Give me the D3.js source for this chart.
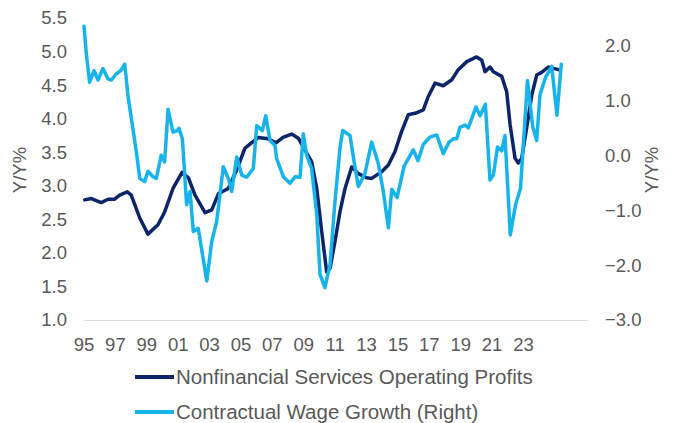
<!DOCTYPE html>
<html>
<head>
<meta charset="utf-8">
<script src="https://cdn.jsdelivr.net/npm/d3@7/dist/d3.min.js"></script>
<style>
  body { margin: 0; background: #fff; }
  text { font-family: "Liberation Sans", Arial, sans-serif; fill: #595959; }
</style>
</head>
<body>
<svg id="chart" width="674" height="423"></svg>
<script>
// profits, left axis (Y/Y%) : [year, value]
var profits = [
  [1995.04, 2.79], [1995.43, 2.81], [1996.01, 2.75], [1996.41, 2.80], [1996.80, 2.80],
  [1997.09, 2.86], [1997.54, 2.91], [1997.77, 2.86], [1998.27, 2.52], [1998.75, 2.28],
  [1999.34, 2.42], [1999.73, 2.61], [2000.22, 2.96], [2000.75, 3.20], [2001.12, 3.12],
  [2001.51, 2.86], [2002.10, 2.60], [2002.49, 2.64], [2002.88, 2.88], [2003.46, 2.96],
  [2003.96, 3.24], [2004.44, 3.56], [2005.22, 3.72], [2005.79, 3.70], [2006.26, 3.64],
  [2006.67, 3.72], [2007.18, 3.77], [2007.57, 3.71], [2007.96, 3.53], [2008.35, 3.36],
  [2008.65, 2.96], [2008.94, 2.32], [2009.23, 1.72], [2009.43, 1.77], [2009.72, 2.17],
  [2010.01, 2.61], [2010.31, 2.96], [2010.70, 3.28], [2011.09, 3.18], [2011.58, 3.12],
  [2011.87, 3.11], [2012.46, 3.21], [2012.85, 3.31], [2013.24, 3.51], [2013.63, 3.81],
  [2014.02, 4.06], [2014.41, 4.08], [2014.90, 4.13], [2015.19, 4.33], [2015.59, 4.53],
  [2016.07, 4.49], [2016.57, 4.58], [2016.95, 4.73], [2017.45, 4.85], [2018.03, 4.92],
  [2018.33, 4.87], [2018.52, 4.70], [2018.81, 4.77], [2019.01, 4.70], [2019.50, 4.63],
  [2019.79, 4.40], [2019.99, 3.91], [2020.28, 3.41], [2020.47, 3.34], [2020.67, 3.41],
  [2020.96, 3.86], [2021.26, 4.35], [2021.55, 4.65], [2021.84, 4.69], [2022.23, 4.77],
  [2022.53, 4.75], [2022.82, 4.73]
];

// contractual wage growth, right axis
var wages = [
  [1995.00, 2.35], [1995.13, 1.87], [1995.33, 1.33], [1995.59, 1.54], [1995.82, 1.37],
  [1996.11, 1.58], [1996.41, 1.39], [1996.60, 1.37], [1996.89, 1.48], [1997.15, 1.54],
  [1997.39, 1.66], [1997.58, 1.08], [1997.87, 0.48], [1998.07, 0.06], [1998.27, -0.42],
  [1998.56, -0.48], [1998.75, -0.29], [1999.05, -0.39], [1999.24, -0.42], [1999.53, 0.00],
  [1999.73, -0.12], [1999.93, 0.84], [2000.22, 0.42], [2000.47, 0.45], [2000.57, 0.49],
  [2000.77, 0.30], [2001.02, -0.90], [2001.22, -0.66], [2001.41, -1.39], [2001.70, -1.33],
  [2002.20, -2.29], [2002.49, -1.57], [2002.78, -1.21], [2003.17, -0.21], [2003.46, -0.42],
  [2003.66, -0.66], [2003.96, -0.03], [2004.25, -0.36], [2004.54, -0.40], [2004.93, -0.24],
  [2005.13, 0.54], [2005.46, 0.45], [2005.66, 0.72], [2005.91, 0.27], [2006.20, 0.18],
  [2006.30, -0.06], [2006.69, -0.39], [2007.08, -0.51], [2007.38, -0.39], [2007.67, -0.40],
  [2007.86, 0.39], [2008.06, 0.00], [2008.35, -0.24], [2008.65, -1.08], [2008.84, -2.17],
  [2009.13, -2.41], [2009.43, -1.99], [2009.72, -0.84], [2010.01, 0.12], [2010.17, 0.45],
  [2010.60, 0.36], [2010.84, -0.12], [2011.09, -0.57], [2011.48, -0.33], [2011.87, 0.24],
  [2012.26, -0.15], [2012.55, -0.65], [2012.85, -1.32], [2013.05, -0.62], [2013.36, -0.77],
  [2013.77, -0.20], [2014.31, 0.10], [2014.59, -0.10], [2014.90, 0.20], [2015.29, 0.33],
  [2015.69, 0.37], [2016.07, 0.03], [2016.41, 0.24], [2016.66, 0.30], [2016.86, 0.30],
  [2017.05, 0.51], [2017.35, 0.55], [2017.54, 0.50], [2017.99, 0.88], [2018.23, 0.72],
  [2018.54, 0.93], [2018.81, -0.45], [2019.01, -0.36], [2019.25, 0.15], [2019.50, 0.08],
  [2019.69, 0.36], [2020.00, -1.45], [2020.31, -0.90], [2020.60, -0.60], [2021.01, 1.36],
  [2021.31, 0.53], [2021.55, 0.27], [2021.74, 1.10], [2022.07, 1.42], [2022.43, 1.62],
  [2022.74, 0.73], [2022.99, 1.66]
];

var xLabels = ["95", "97", "99", "01", "03", "05", "07", "09", "11", "13", "15", "17", "19", "21", "23"];
var leftTicks = [1.0, 1.5, 2.0, 2.5, 3.0, 3.5, 4.0, 4.5, 5.0, 5.5];
var rightTicks = [-3, -2, -1, 0, 1, 2];
var seriesNames = ["Nonfinancial Services Operating Profits", "Contractual Wage Growth (Right)"];
var seriesColors = ["#0c2468", "#16b4ea"];

var svg = d3.select("#chart");

var x = d3.scaleLinear().domain([1995, 2024.5]).range([84, 587]);
var xLab = d3.scalePoint().domain(xLabels).range([83.5, 523]);
var yL = d3.scaleLinear().domain([1, 5.5]).range([320, 18]);
var yR = d3.scaleLinear().domain([-3, 2.5]).range([320, 18]);

function styleText(g, size) {
    g.select(".domain").remove();
    g.selectAll("text").attr("font-size", size).attr("fill", "#595959")
        .style("font-family", "'Liberation Sans', Arial, sans-serif");
}

// bottom axis line
svg.append("g")
    .attr("transform", "translate(0,320)")
    .call(d3.axisBottom(x).tickValues([]).tickSizeOuter(0))
    .call(function(g) { g.select(".domain").attr("stroke", "#d9d9d9").attr("stroke-width", 1.2); });

// x labels
svg.append("g")
    .attr("transform", "translate(0,335)")
    .call(d3.axisBottom(xLab).tickSize(0))
    .call(function(g) { styleText(g, 18.5); });

// left axis
svg.append("g")
    .attr("transform", "translate(72,0)")
    .call(d3.axisLeft(yL).tickValues(leftTicks).tickFormat(d3.format(".1f")).tickSize(0).tickPadding(5))
    .call(function(g) { styleText(g, 18.5); });

// right axis
svg.append("g")
    .attr("transform", "translate(600,0)")
    .call(d3.axisRight(yR).tickValues(rightTicks).tickFormat(d3.format(".1f")).tickSize(0).tickPadding(5))
    .call(function(g) { styleText(g, 18.5); });

// axis titles
svg.append("text")
    .attr("transform", "translate(26,170) rotate(-90)")
    .attr("text-anchor", "middle")
    .attr("font-size", 18.5)
    .text("Y/Y%");
svg.append("text")
    .attr("transform", "translate(658,170) rotate(-90)")
    .attr("text-anchor", "middle")
    .attr("font-size", 18.5)
    .text("Y/Y%");

var lineL = d3.line().x(function(d) { return x(d[0]); }).y(function(d) { return yL(d[1]); });
var lineR = d3.line().x(function(d) { return x(d[0]); }).y(function(d) { return yR(d[1]); });

svg.append("path")
    .datum(profits)
    .attr("d", lineL)
    .attr("fill", "none")
    .attr("stroke", seriesColors[0])
    .attr("stroke-width", 3.5)
    .attr("stroke-linejoin", "round")
    .attr("stroke-linecap", "round");

svg.append("path")
    .datum(wages)
    .attr("d", lineR)
    .attr("fill", "none")
    .attr("stroke", seriesColors[1])
    .attr("stroke-width", 3.5)
    .attr("stroke-linejoin", "round")
    .attr("stroke-linecap", "round");

// legend
var legend = svg.append("g").attr("transform", "translate(135,377)");
var item = legend.selectAll("g")
    .data(seriesNames)
    .enter().append("g")
    .attr("transform", function(d, i) { return "translate(0," + i * 35 + ")"; });
item.append("line")
    .attr("x1", 0).attr("x2", 39)
    .attr("stroke", function(d, i) { return seriesColors[i]; })
    .attr("stroke-width", 4);
item.append("text")
    .attr("x", 41)
    .attr("dy", "0.35em")
    .attr("font-size", 20.5)
    .text(function(d) { return d; });
</script>
</body>
</html>
